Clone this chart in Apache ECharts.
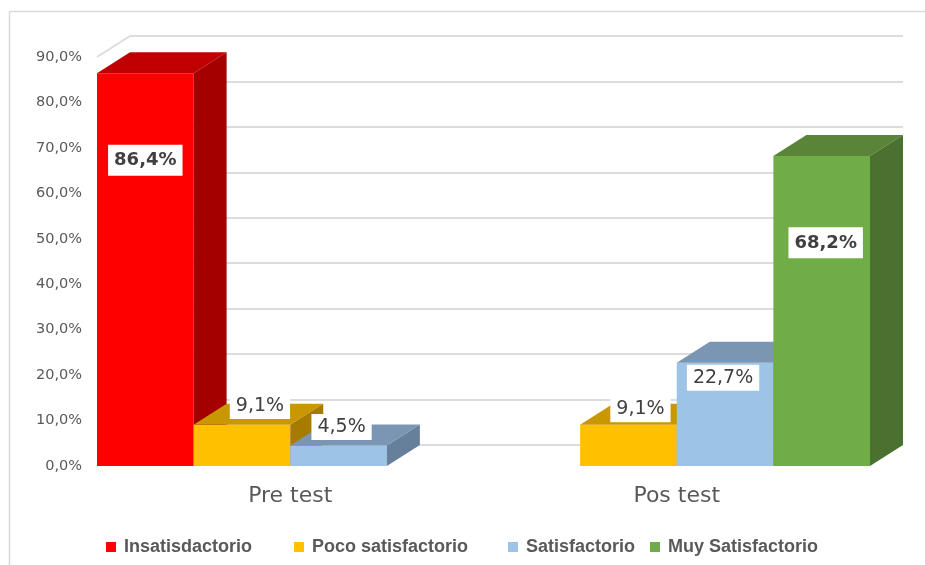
<!DOCTYPE html>
<html>
<head>
<meta charset="utf-8">
<script src="https://cdn.jsdelivr.net/npm/echarts@6/dist/echarts.min.js"></script>
<style>
  html, body { margin: 0; padding: 0; background: #fff; }
  #chart { width: 925px; height: 565px; }
</style>
</head>
<body>
<div id="chart"></div>
<script>
const categories = ['Pre test', 'Pos test'];
const seriesNames = ['Insatisdactorio', 'Poco satisfactorio', 'Satisfactorio', 'Muy Satisfactorio'];
const insatisfactorio = [86.4, null];
const pocoSatisfactorio = [9.1, 9.1];
const satisfactorio = [4.5, 22.7];
const muySatisfactorio = [null, 68.2];
const yTicks = [0, 10, 20, 30, 40, 50, 60, 70, 80, 90];

// label placement (value level of label centre, x shift in px)
const labelLevel = [[67.3, null], [13.2, 12.5], [8.6, 19.4], [null, 49.1]];
const labelShift = [[0, null], [18, 12], [3, -2], [null, 4]];

const values = [insatisfactorio, pocoSatisfactorio, satisfactorio, muySatisfactorio];
const faces = [
    { front: '#FF0000', top: '#C00000', side: '#A50000' },
    { front: '#FFC000', top: '#C99700', side: '#A67C00' },
    { front: '#9DC3E6', top: '#7B96B3', side: '#66809B' },
    { front: '#70AD47', top: '#5A8438', side: '#4A7130' }
];
const DX = 33, DY = -21;

function fmt(v) {
    return v.toFixed(1).replace('.', ',') + '%';
}

function renderItem(params, api) {
    const s = params.seriesIndex;
    const cat = api.value(0);
    const v = api.value(1);
    if (v == null || isNaN(v)) return null;
    const base = api.coord([cat, 0]);
    const topP = api.coord([cat, v]);
    const band = api.size([1, 0])[0];
    const bw = band / seriesNames.length;
    const x0 = base[0] - band / 2 + s * bw, x1 = x0 + bw;
    const y0 = base[1], y1 = topP[1];
    const f = faces[s];
    const children = [
        { type: 'rect', shape: { x: x0, y: y1, width: bw, height: y0 - y1 }, style: { fill: f.front } },
        { type: 'polygon', shape: { points: [[x0, y1], [x0 + DX, y1 + DY], [x1 + DX, y1 + DY], [x1, y1]] }, style: { fill: f.top } },
        { type: 'polygon', shape: { points: [[x1, y1], [x1 + DX, y1 + DY], [x1 + DX, y0 + DY], [x1, y0]] }, style: { fill: f.side } }
    ];
    const lv = labelLevel[s][cat];
    if (lv != null) {
        const lp = api.coord([cat, lv]);
        const big = v > 50;
        children.push({
            type: 'text',
            z2: 10,
            style: {
                text: fmt(v),
                x: x0 + bw / 2 + labelShift[s][cat],
                y: lp[1],
                align: 'center',
                verticalAlign: 'middle',
                fill: '#404040',
                font: big ? 'bold 18px "DejaVu Sans", sans-serif' : '19px "DejaVu Sans", sans-serif',
                backgroundColor: '#ffffff',
                padding: big ? [7, 6, 6, 6] : [4, 6, 3, 6]
            }
        });
    }
    return { type: 'group', children: children };
}

const chart = echarts.init(document.getElementById('chart'));

const legendLeft = [106, 294, 508, 650];

const option = {
    animation: false,
    backgroundColor: '#ffffff',
    grid: [
        { left: 97, right: 55, top: 57, bottom: 99 },
        { left: 130, right: 22, top: 36, bottom: 120 }
    ],
    xAxis: [
        {
            type: 'category',
            gridIndex: 0,
            data: categories,
            axisLine: { show: false },
            axisTick: { show: false },
            axisLabel: { fontSize: 22, color: '#595959', margin: 19, fontFamily: 'DejaVu Sans' }
        },
        {
            type: 'category',
            gridIndex: 1,
            data: categories,
            show: false
        }
    ],
    yAxis: [
        {
            type: 'value',
            gridIndex: 0,
            min: yTicks[0],
            max: yTicks[yTicks.length - 1],
            interval: 10,
            axisLine: { show: false },
            axisTick: { show: false },
            splitLine: { show: false },
            axisLabel: {
                fontSize: 14.5,
                color: '#595959',
                margin: 15,
                fontFamily: 'DejaVu Sans',
                formatter: function (v) { return fmt(v); }
            }
        },
        {
            type: 'value',
            gridIndex: 1,
            min: yTicks[0],
            max: yTicks[yTicks.length - 1],
            interval: 10,
            axisLine: { show: false },
            axisTick: { show: false },
            axisLabel: { show: false },
            splitLine: { show: true, lineStyle: { color: '#dcdcdc', width: 2 } }
        }
    ],
    legend: seriesNames.map(function (n, i) {
        return {
            data: [n],
            left: legendLeft[i],
            top: 538,
            padding: 0,
            icon: 'rect',
            itemWidth: 10,
            itemHeight: 10,
            itemGap: 8,
            selectedMode: false,
            textStyle: { fontSize: 18, fontWeight: 'bold', color: '#595959', fontFamily: 'Liberation Sans', padding: [0, 0, 0, 3] }
        };
    }),
    series: seriesNames.map(function (n, i) {
        return {
            name: n,
            type: 'custom',
            xAxisIndex: 0,
            yAxisIndex: 0,
            itemStyle: { color: faces[i].front },
            renderItem: renderItem,
            encode: { x: 0, y: 1 },
            data: values[i].map(function (v, c) { return [c, v]; })
        };
    })
};

chart.setOption(option);

// chart frame and the top edge of the left wall
const p0 = chart.convertToPixel({ gridIndex: 0 }, [0, yTicks[yTicks.length - 1]]);
const band = chart.getModel().getComponent('xAxis', 0).axis.getBandWidth();
const wallX = p0[0] - band / 2;
chart.setOption({
    graphic: [
        { type: 'line', shape: { x1: 9.5, y1: 11.5, x2: 925, y2: 11.5 }, style: { stroke: '#d9d9d9', lineWidth: 1.5 } },
        { type: 'line', shape: { x1: 9.5, y1: 11.5, x2: 9.5, y2: 565 }, style: { stroke: '#d9d9d9', lineWidth: 1.5 } },
        { type: 'line', z: -1, shape: { x1: wallX, y1: p0[1], x2: wallX + DX, y2: p0[1] + DY }, style: { stroke: '#dcdcdc', lineWidth: 2 } }
    ]
});
</script>
</body>
</html>
